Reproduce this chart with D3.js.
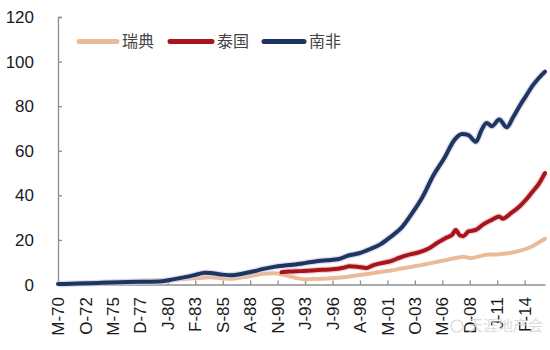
<!DOCTYPE html>
<html><head><meta charset="utf-8">
<script src="https://cdn.jsdelivr.net/npm/d3@7"></script>
<style>
html,body{margin:0;padding:0;background:#fff;}
svg{display:block;}
</style></head>
<body>
<svg id="c" width="550" height="350"></svg>
<script>
// ---- data (decimal years) ----
const seriesNames = ["瑞典", "泰国", "南非"];
const seriesColors = ["#ebbb98", "#a8141b", "#203462"];

const swedenYears = [1970.17,1972,1974,1976,1978,1980,1981.5,1983,1984.5,1985.5,1986.5,1987.5,1988.5,1989.5,1990.5,1991.5,1992.5,1993.5,1994.5,1995.5,1996.5,1997.5,1998.5,1999.5,2000.5,2001.5,2002.5,2003.5,2004.5,2005.5,2006.5,2007.5,2008.3,2009.0,2009.8,2010.5,2011.5,2012.5,2013.5,2014.5,2015.3,2016.0];
const swedenValues = [0.3,0.5,0.9,1.3,1.7,2.0,2.3,2.8,3.2,2.8,2.6,3.2,4.0,4.8,5.0,4.2,3.0,2.3,2.5,2.7,3.0,3.5,4.2,4.8,5.6,6.3,7.2,8.0,8.8,9.8,10.8,11.8,12.5,11.8,12.6,13.3,13.5,14.0,15.0,16.5,18.5,20.5];

const thaiYears = [1991.2,1992,1993,1994,1995,1996,1997,1997.6,1998.3,1999.2,1999.8,2000.5,2001.5,2002.3,2003.3,2004.2,2005.0,2005.8,2006.7,2007.3,2007.6,2008.0,2008.3,2008.8,2009.5,2010.2,2011.0,2011.7,2012.0,2012.8,2013.6,2014.2,2014.8,2015.4,2016.0];
const thaiValues = [5.5,5.8,6.0,6.3,6.6,6.8,7.5,8.2,8.0,7.4,8.6,9.5,10.5,12,13.5,14.5,16,18.5,21,22.5,24.5,22,21.7,23.8,24.5,27,29,30.5,29.5,32,35,38,41.5,45,50];

const saYears = [1970.17,1972,1974,1976,1978,1980,1981,1982,1983,1984,1984.5,1985.5,1986.5,1987.5,1988.5,1989.5,1990.5,1991.5,1992.5,1993.5,1994.5,1995.5,1996.5,1997.5,1998.5,1999.5,2000.5,2001.5,2002.5,2003.5,2004.5,2005.5,2006.5,2007.5,2008.2,2008.8,2009.5,2010.0,2010.5,2011.0,2011.7,2012.4,2013.0,2013.6,2014.2,2014.8,2015.4,2016.0];
const saValues = [0.2,0.4,0.7,1.0,1.2,1.5,2.3,3.2,4.2,5.3,5.2,4.5,4.1,4.8,5.8,7.0,7.9,8.5,9.0,9.7,10.4,10.9,11.3,13.0,14.0,15.8,18.0,21.5,25.5,32,39.5,49,56.5,65,67.5,67,64,69,72.5,71,74,70.5,75,80,84.5,89,92.5,95.5];

const yTicks = [0,20,40,60,80,100,120];
const monthLetters = ["J","F","M","A","M","J","J","A","S","O","N","D"];
const xTickStartYear = 1970, xTickStartMonth = 2, xTickStepMonths = 31, xTickCount = 18;
const xTickLabels = d3.range(xTickCount).map(i => {
  const idx = xTickStartMonth + i * xTickStepMonths;
  const yr = xTickStartYear + Math.floor(idx / 12);
  return monthLetters[idx % 12] + "-" + String(yr % 100).padStart(2, "0");
});
const xTickValues = d3.range(xTickCount).map(i => xTickStartYear + (xTickStartMonth + i * xTickStepMonths) / 12);
const watermark = "天涯地产会";

// ---- drawing ----
const svg = d3.select("#c");
const x = d3.scaleLinear().domain([1970 + 2/12, 2016]).range([58, 545]);
const y = d3.scaleLinear().domain([0, 120]).range([284.5, 17]);

const axisColor = "#8c8c8c";
const font = "'Liberation Sans', Arial, sans-serif";

// y axis
const yAxis = svg.append("g").attr("transform", "translate(58,0)")
  .call(d3.axisRight(y).tickValues(yTicks).tickSize(4).tickFormat(""));
yAxis.select(".domain").attr("stroke", axisColor).attr("stroke-width", 1.3);
yAxis.selectAll(".tick line").attr("stroke", axisColor).attr("stroke-width", 1.3);
svg.append("g").selectAll("text").data(yTicks).join("text")
  .attr("x", 34).attr("y", d => y(d)).attr("dy", "0.36em")
  .attr("text-anchor", "end").attr("font-family", font).attr("font-size", 17)
  .attr("fill", "#1a1a1a").text(d => d);

// x axis
const xAxis = svg.append("g").attr("transform", "translate(0,284.5)")
  .call(d3.axisTop(x).tickValues(xTickValues).tickSize(4).tickSizeOuter(0).tickFormat(""));
xAxis.select(".domain").attr("stroke", axisColor).attr("stroke-width", 1.3);
xAxis.selectAll(".tick line").attr("stroke", axisColor).attr("stroke-width", 1.3);
svg.append("g").selectAll("text").data(xTickValues).join("text")
  .attr("transform", d => `translate(${x(d)},297) rotate(-90)`)
  .attr("dy", "0.36em").attr("text-anchor", "end")
  .attr("font-family", font).attr("font-size", 17).attr("fill", "#1a1a1a")
  .text((d, i) => xTickLabels[i]);

// lines
const line = d3.line().x(d => x(d[0])).y(d => y(d[1])).curve(d3.curveMonotoneX);
const series = [
  d3.zip(swedenYears, swedenValues),
  d3.zip(thaiYears, thaiValues),
  d3.zip(saYears, saValues)
];
const clipId = "plotclip";
svg.append("clipPath").attr("id", clipId).append("rect")
  .attr("x", 56).attr("y", 10).attr("width", 492).attr("height", 278);
const lg = svg.append("g").attr("clip-path", `url(#${clipId})`);
series.forEach((s, i) => {
  if (i > 0) {
    lg.append("path").datum(s).attr("d", line).attr("fill", "none")
      .attr("stroke", i === 2 ? "#c9d0e3" : "#e8c0c0").attr("stroke-width", 6.5)
      .attr("stroke-linejoin", "round").attr("opacity", 0.7);
  }
  lg.append("path").datum(s).attr("d", line).attr("fill", "none")
    .attr("stroke", seriesColors[i]).attr("stroke-width", 4)
    .attr("stroke-linejoin", "round").attr("stroke-linecap", "round");
});

// legend
const legendX = [79, 170, 264];
const legendLen = [38, 42, 40];
const lgnd = svg.append("g");
seriesNames.forEach((n, i) => {
  lgnd.append("line").attr("x1", legendX[i]).attr("x2", legendX[i] + legendLen[i])
    .attr("y1", 41.5).attr("y2", 41.5).attr("stroke", seriesColors[i])
    .attr("stroke-width", 5).attr("stroke-linecap", "round");
  lgnd.append("text").attr("x", legendX[i] + legendLen[i] + 5).attr("y", 41.5)
    .attr("dy", "0.36em").attr("font-family", "'Noto Sans CJK SC', sans-serif")
    .attr("font-size", 16).attr("fill", "#444").text(n);
});

// watermark
svg.append("circle").attr("cx", 457).attr("cy", 326).attr("r", 6)
  .attr("fill", "none").attr("stroke", "#d8d8d8").attr("stroke-width", 1.2);
svg.append("text").attr("x", 468).attr("y", 326).attr("dy", "0.36em")
  .attr("font-family", "'Noto Sans CJK SC', sans-serif").attr("font-size", 15)
  .attr("fill", "#d4d4d4").attr("opacity", 0.8).text(watermark);
</script>
</body></html>
